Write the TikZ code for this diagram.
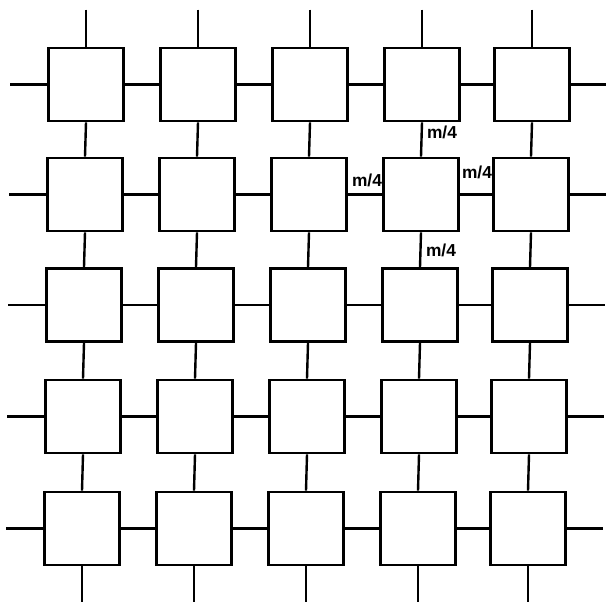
\documentclass[tikz,border=0pt]{standalone}
\usepackage{fontspec}
\setmainfont{Liberation Sans}
\begin{document}
\begin{tikzpicture}[x=0.75pt,y=-0.75pt, line width=1.8pt,
  cell/.style={draw, minimum width=56pt, minimum height=55pt, inner sep=0pt, line width=1.9pt},
  lab/.style={font=\bfseries\fontsize{13}{15}\selectfont, inner sep=0pt}]
\useasboundingbox (0,0) rectangle (606,602);
\foreach \c/\X in {1/86,2/198,3/310,4/422,5/532}{
  \foreach \r/\Y in {1/84.5,2/194.5,3/305,4/416.5,5/528.5}{
    \node[cell] (s\r\c) at ({\X-(\r-1)},\Y) {};
  }
}
% horizontal links
\foreach \r in {1,...,5}{
  \foreach \c in {1,...,4}{
    \pgfmathtruncatemacro{\n}{\c+1}
    \draw (s\r\c.east) -- (s\r\n.west);
  }
}
% vertical links
\foreach \c in {1,...,5}{
  \foreach \r in {1,...,4}{
    \pgfmathtruncatemacro{\n}{\r+1}
    \draw (s\r\c.south) -- (s\n\c.north);
  }
}
% stubs
\foreach \c in {1,...,5}{
  \path (s1\c.north) ++(0,-37) coordinate (t\c);
  \path (s5\c.south) ++(0,38) coordinate (b\c);
  \draw (t\c) -- (s1\c.north);
  \draw (s5\c.south) -- (b\c);
}
\foreach \r in {1,...,5}{
  \path (s\r1.west) ++(-37,0) coordinate (l\r);
  \path (s\r5.east) ++(36,0) coordinate (e\r);
  \draw (l\r) -- (s\r1.west);
  \draw (s\r5.east) -- (e\r);
}
% labels
\node[lab] (la) at (442,132) {m/4};
\node[lab] (ll) at (367,180) {m/4};
\node[lab] (lr) at (477,172) {m/4};
\node[lab] (lb) at (441,250) {m/4};
\end{tikzpicture}
\end{document}
